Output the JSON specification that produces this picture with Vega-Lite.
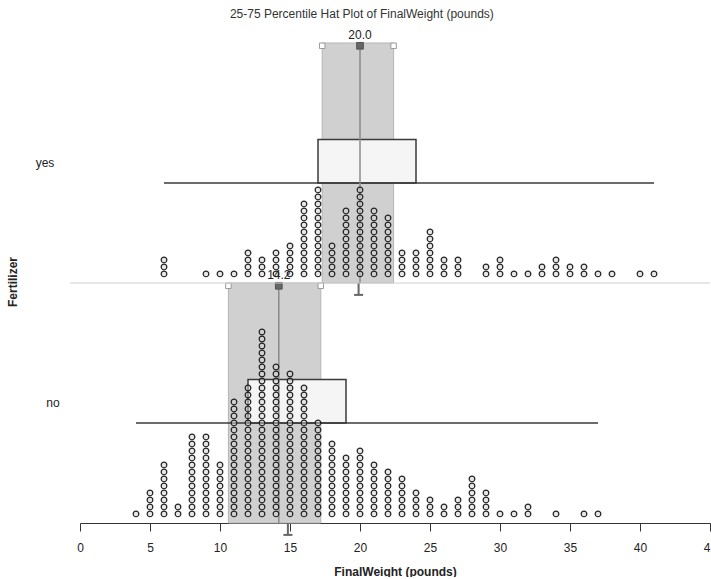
{
  "$schema": "https://vega.github.io/schema/vega-lite/v6.json",
  "padding": {"left": 7, "top": 8, "right": 0, "bottom": 0},
  "bounds": "flush",
  "title": {"text": "25-75 Percentile Hat Plot of FinalWeight (pounds)", "fontSize": 12, "fontWeight": "normal", "font": "Liberation Sans", "color": "#333333", "anchor": "middle", "offset": 8},
  "data": {"values": [
    {"Fertilizer":"yes","min":6,"q1":17,"median":20,"q3":24,"max":41,"lo":17.3,"hi":22.4,"mean":19.9},
    {"Fertilizer":"no","min":4,"q1":12,"median":14.2,"q3":19,"max":37,"lo":10.6,"hi":17.2,"mean":14.85},
    {"Fertilizer":"yes","FinalWeight":6},{"Fertilizer":"yes","FinalWeight":6},{"Fertilizer":"yes","FinalWeight":6},
    {"Fertilizer":"yes","FinalWeight":9},{"Fertilizer":"yes","FinalWeight":10},{"Fertilizer":"yes","FinalWeight":11},
    {"Fertilizer":"yes","FinalWeight":12},{"Fertilizer":"yes","FinalWeight":12},{"Fertilizer":"yes","FinalWeight":12},{"Fertilizer":"yes","FinalWeight":12},
    {"Fertilizer":"yes","FinalWeight":13},{"Fertilizer":"yes","FinalWeight":13},{"Fertilizer":"yes","FinalWeight":13},
    {"Fertilizer":"yes","FinalWeight":14},{"Fertilizer":"yes","FinalWeight":14},{"Fertilizer":"yes","FinalWeight":14},{"Fertilizer":"yes","FinalWeight":14},
    {"Fertilizer":"yes","FinalWeight":15},{"Fertilizer":"yes","FinalWeight":15},{"Fertilizer":"yes","FinalWeight":15},{"Fertilizer":"yes","FinalWeight":15},{"Fertilizer":"yes","FinalWeight":15},
    {"Fertilizer":"yes","FinalWeight":16},{"Fertilizer":"yes","FinalWeight":16},{"Fertilizer":"yes","FinalWeight":16},{"Fertilizer":"yes","FinalWeight":16},{"Fertilizer":"yes","FinalWeight":16},{"Fertilizer":"yes","FinalWeight":16},{"Fertilizer":"yes","FinalWeight":16},{"Fertilizer":"yes","FinalWeight":16},{"Fertilizer":"yes","FinalWeight":16},{"Fertilizer":"yes","FinalWeight":16},{"Fertilizer":"yes","FinalWeight":16},
    {"Fertilizer":"yes","FinalWeight":17},{"Fertilizer":"yes","FinalWeight":17},{"Fertilizer":"yes","FinalWeight":17},{"Fertilizer":"yes","FinalWeight":17},{"Fertilizer":"yes","FinalWeight":17},{"Fertilizer":"yes","FinalWeight":17},{"Fertilizer":"yes","FinalWeight":17},{"Fertilizer":"yes","FinalWeight":17},{"Fertilizer":"yes","FinalWeight":17},{"Fertilizer":"yes","FinalWeight":17},{"Fertilizer":"yes","FinalWeight":17},{"Fertilizer":"yes","FinalWeight":17},{"Fertilizer":"yes","FinalWeight":17},
    {"Fertilizer":"yes","FinalWeight":18},{"Fertilizer":"yes","FinalWeight":18},{"Fertilizer":"yes","FinalWeight":18},{"Fertilizer":"yes","FinalWeight":18},{"Fertilizer":"yes","FinalWeight":18},
    {"Fertilizer":"yes","FinalWeight":19},{"Fertilizer":"yes","FinalWeight":19},{"Fertilizer":"yes","FinalWeight":19},{"Fertilizer":"yes","FinalWeight":19},{"Fertilizer":"yes","FinalWeight":19},{"Fertilizer":"yes","FinalWeight":19},{"Fertilizer":"yes","FinalWeight":19},{"Fertilizer":"yes","FinalWeight":19},{"Fertilizer":"yes","FinalWeight":19},{"Fertilizer":"yes","FinalWeight":19},
    {"Fertilizer":"yes","FinalWeight":20},{"Fertilizer":"yes","FinalWeight":20},{"Fertilizer":"yes","FinalWeight":20},{"Fertilizer":"yes","FinalWeight":20},{"Fertilizer":"yes","FinalWeight":20},{"Fertilizer":"yes","FinalWeight":20},{"Fertilizer":"yes","FinalWeight":20},{"Fertilizer":"yes","FinalWeight":20},{"Fertilizer":"yes","FinalWeight":20},{"Fertilizer":"yes","FinalWeight":20},{"Fertilizer":"yes","FinalWeight":20},{"Fertilizer":"yes","FinalWeight":20},{"Fertilizer":"yes","FinalWeight":20},
    {"Fertilizer":"yes","FinalWeight":21},{"Fertilizer":"yes","FinalWeight":21},{"Fertilizer":"yes","FinalWeight":21},{"Fertilizer":"yes","FinalWeight":21},{"Fertilizer":"yes","FinalWeight":21},{"Fertilizer":"yes","FinalWeight":21},{"Fertilizer":"yes","FinalWeight":21},{"Fertilizer":"yes","FinalWeight":21},{"Fertilizer":"yes","FinalWeight":21},{"Fertilizer":"yes","FinalWeight":21},
    {"Fertilizer":"yes","FinalWeight":22},{"Fertilizer":"yes","FinalWeight":22},{"Fertilizer":"yes","FinalWeight":22},{"Fertilizer":"yes","FinalWeight":22},{"Fertilizer":"yes","FinalWeight":22},{"Fertilizer":"yes","FinalWeight":22},{"Fertilizer":"yes","FinalWeight":22},{"Fertilizer":"yes","FinalWeight":22},{"Fertilizer":"yes","FinalWeight":22},
    {"Fertilizer":"yes","FinalWeight":23},{"Fertilizer":"yes","FinalWeight":23},{"Fertilizer":"yes","FinalWeight":23},{"Fertilizer":"yes","FinalWeight":23},
    {"Fertilizer":"yes","FinalWeight":24},{"Fertilizer":"yes","FinalWeight":24},{"Fertilizer":"yes","FinalWeight":24},{"Fertilizer":"yes","FinalWeight":24},
    {"Fertilizer":"yes","FinalWeight":25},{"Fertilizer":"yes","FinalWeight":25},{"Fertilizer":"yes","FinalWeight":25},{"Fertilizer":"yes","FinalWeight":25},{"Fertilizer":"yes","FinalWeight":25},{"Fertilizer":"yes","FinalWeight":25},{"Fertilizer":"yes","FinalWeight":25},
    {"Fertilizer":"yes","FinalWeight":26},{"Fertilizer":"yes","FinalWeight":26},{"Fertilizer":"yes","FinalWeight":26},
    {"Fertilizer":"yes","FinalWeight":27},{"Fertilizer":"yes","FinalWeight":27},{"Fertilizer":"yes","FinalWeight":27},
    {"Fertilizer":"yes","FinalWeight":29},{"Fertilizer":"yes","FinalWeight":29},
    {"Fertilizer":"yes","FinalWeight":30},{"Fertilizer":"yes","FinalWeight":30},{"Fertilizer":"yes","FinalWeight":30},
    {"Fertilizer":"yes","FinalWeight":31},{"Fertilizer":"yes","FinalWeight":32},
    {"Fertilizer":"yes","FinalWeight":33},{"Fertilizer":"yes","FinalWeight":33},
    {"Fertilizer":"yes","FinalWeight":34},{"Fertilizer":"yes","FinalWeight":34},{"Fertilizer":"yes","FinalWeight":34},
    {"Fertilizer":"yes","FinalWeight":35},{"Fertilizer":"yes","FinalWeight":35},
    {"Fertilizer":"yes","FinalWeight":36},{"Fertilizer":"yes","FinalWeight":36},
    {"Fertilizer":"yes","FinalWeight":37},{"Fertilizer":"yes","FinalWeight":38},{"Fertilizer":"yes","FinalWeight":40},{"Fertilizer":"yes","FinalWeight":41},
    {"Fertilizer":"no","FinalWeight":4},
    {"Fertilizer":"no","FinalWeight":5},{"Fertilizer":"no","FinalWeight":5},{"Fertilizer":"no","FinalWeight":5},{"Fertilizer":"no","FinalWeight":5},
    {"Fertilizer":"no","FinalWeight":6},{"Fertilizer":"no","FinalWeight":6},{"Fertilizer":"no","FinalWeight":6},{"Fertilizer":"no","FinalWeight":6},{"Fertilizer":"no","FinalWeight":6},{"Fertilizer":"no","FinalWeight":6},{"Fertilizer":"no","FinalWeight":6},{"Fertilizer":"no","FinalWeight":6},
    {"Fertilizer":"no","FinalWeight":7},{"Fertilizer":"no","FinalWeight":7},
    {"Fertilizer":"no","FinalWeight":8},{"Fertilizer":"no","FinalWeight":8},{"Fertilizer":"no","FinalWeight":8},{"Fertilizer":"no","FinalWeight":8},{"Fertilizer":"no","FinalWeight":8},{"Fertilizer":"no","FinalWeight":8},{"Fertilizer":"no","FinalWeight":8},{"Fertilizer":"no","FinalWeight":8},{"Fertilizer":"no","FinalWeight":8},{"Fertilizer":"no","FinalWeight":8},{"Fertilizer":"no","FinalWeight":8},{"Fertilizer":"no","FinalWeight":8},
    {"Fertilizer":"no","FinalWeight":9},{"Fertilizer":"no","FinalWeight":9},{"Fertilizer":"no","FinalWeight":9},{"Fertilizer":"no","FinalWeight":9},{"Fertilizer":"no","FinalWeight":9},{"Fertilizer":"no","FinalWeight":9},{"Fertilizer":"no","FinalWeight":9},{"Fertilizer":"no","FinalWeight":9},{"Fertilizer":"no","FinalWeight":9},{"Fertilizer":"no","FinalWeight":9},{"Fertilizer":"no","FinalWeight":9},{"Fertilizer":"no","FinalWeight":9},
    {"Fertilizer":"no","FinalWeight":10},{"Fertilizer":"no","FinalWeight":10},{"Fertilizer":"no","FinalWeight":10},{"Fertilizer":"no","FinalWeight":10},{"Fertilizer":"no","FinalWeight":10},{"Fertilizer":"no","FinalWeight":10},{"Fertilizer":"no","FinalWeight":10},{"Fertilizer":"no","FinalWeight":10},
    {"Fertilizer":"no","FinalWeight":11},{"Fertilizer":"no","FinalWeight":11},{"Fertilizer":"no","FinalWeight":11},{"Fertilizer":"no","FinalWeight":11},{"Fertilizer":"no","FinalWeight":11},{"Fertilizer":"no","FinalWeight":11},{"Fertilizer":"no","FinalWeight":11},{"Fertilizer":"no","FinalWeight":11},{"Fertilizer":"no","FinalWeight":11},{"Fertilizer":"no","FinalWeight":11},{"Fertilizer":"no","FinalWeight":11},{"Fertilizer":"no","FinalWeight":11},{"Fertilizer":"no","FinalWeight":11},{"Fertilizer":"no","FinalWeight":11},{"Fertilizer":"no","FinalWeight":11},{"Fertilizer":"no","FinalWeight":11},{"Fertilizer":"no","FinalWeight":11},
    {"Fertilizer":"no","FinalWeight":12},{"Fertilizer":"no","FinalWeight":12},{"Fertilizer":"no","FinalWeight":12},{"Fertilizer":"no","FinalWeight":12},{"Fertilizer":"no","FinalWeight":12},{"Fertilizer":"no","FinalWeight":12},{"Fertilizer":"no","FinalWeight":12},{"Fertilizer":"no","FinalWeight":12},{"Fertilizer":"no","FinalWeight":12},{"Fertilizer":"no","FinalWeight":12},{"Fertilizer":"no","FinalWeight":12},{"Fertilizer":"no","FinalWeight":12},{"Fertilizer":"no","FinalWeight":12},{"Fertilizer":"no","FinalWeight":12},{"Fertilizer":"no","FinalWeight":12},{"Fertilizer":"no","FinalWeight":12},{"Fertilizer":"no","FinalWeight":12},{"Fertilizer":"no","FinalWeight":12},{"Fertilizer":"no","FinalWeight":12},
    {"Fertilizer":"no","FinalWeight":13},{"Fertilizer":"no","FinalWeight":13},{"Fertilizer":"no","FinalWeight":13},{"Fertilizer":"no","FinalWeight":13},{"Fertilizer":"no","FinalWeight":13},{"Fertilizer":"no","FinalWeight":13},{"Fertilizer":"no","FinalWeight":13},{"Fertilizer":"no","FinalWeight":13},{"Fertilizer":"no","FinalWeight":13},{"Fertilizer":"no","FinalWeight":13},{"Fertilizer":"no","FinalWeight":13},{"Fertilizer":"no","FinalWeight":13},{"Fertilizer":"no","FinalWeight":13},{"Fertilizer":"no","FinalWeight":13},{"Fertilizer":"no","FinalWeight":13},{"Fertilizer":"no","FinalWeight":13},{"Fertilizer":"no","FinalWeight":13},{"Fertilizer":"no","FinalWeight":13},{"Fertilizer":"no","FinalWeight":13},{"Fertilizer":"no","FinalWeight":13},{"Fertilizer":"no","FinalWeight":13},{"Fertilizer":"no","FinalWeight":13},{"Fertilizer":"no","FinalWeight":13},{"Fertilizer":"no","FinalWeight":13},{"Fertilizer":"no","FinalWeight":13},{"Fertilizer":"no","FinalWeight":13},{"Fertilizer":"no","FinalWeight":13},
    {"Fertilizer":"no","FinalWeight":14},{"Fertilizer":"no","FinalWeight":14},{"Fertilizer":"no","FinalWeight":14},{"Fertilizer":"no","FinalWeight":14},{"Fertilizer":"no","FinalWeight":14},{"Fertilizer":"no","FinalWeight":14},{"Fertilizer":"no","FinalWeight":14},{"Fertilizer":"no","FinalWeight":14},{"Fertilizer":"no","FinalWeight":14},{"Fertilizer":"no","FinalWeight":14},{"Fertilizer":"no","FinalWeight":14},{"Fertilizer":"no","FinalWeight":14},{"Fertilizer":"no","FinalWeight":14},{"Fertilizer":"no","FinalWeight":14},{"Fertilizer":"no","FinalWeight":14},{"Fertilizer":"no","FinalWeight":14},{"Fertilizer":"no","FinalWeight":14},{"Fertilizer":"no","FinalWeight":14},{"Fertilizer":"no","FinalWeight":14},{"Fertilizer":"no","FinalWeight":14},{"Fertilizer":"no","FinalWeight":14},{"Fertilizer":"no","FinalWeight":14},
    {"Fertilizer":"no","FinalWeight":15},{"Fertilizer":"no","FinalWeight":15},{"Fertilizer":"no","FinalWeight":15},{"Fertilizer":"no","FinalWeight":15},{"Fertilizer":"no","FinalWeight":15},{"Fertilizer":"no","FinalWeight":15},{"Fertilizer":"no","FinalWeight":15},{"Fertilizer":"no","FinalWeight":15},{"Fertilizer":"no","FinalWeight":15},{"Fertilizer":"no","FinalWeight":15},{"Fertilizer":"no","FinalWeight":15},{"Fertilizer":"no","FinalWeight":15},{"Fertilizer":"no","FinalWeight":15},{"Fertilizer":"no","FinalWeight":15},{"Fertilizer":"no","FinalWeight":15},{"Fertilizer":"no","FinalWeight":15},{"Fertilizer":"no","FinalWeight":15},{"Fertilizer":"no","FinalWeight":15},{"Fertilizer":"no","FinalWeight":15},{"Fertilizer":"no","FinalWeight":15},{"Fertilizer":"no","FinalWeight":15},
    {"Fertilizer":"no","FinalWeight":16},{"Fertilizer":"no","FinalWeight":16},{"Fertilizer":"no","FinalWeight":16},{"Fertilizer":"no","FinalWeight":16},{"Fertilizer":"no","FinalWeight":16},{"Fertilizer":"no","FinalWeight":16},{"Fertilizer":"no","FinalWeight":16},{"Fertilizer":"no","FinalWeight":16},{"Fertilizer":"no","FinalWeight":16},{"Fertilizer":"no","FinalWeight":16},{"Fertilizer":"no","FinalWeight":16},{"Fertilizer":"no","FinalWeight":16},{"Fertilizer":"no","FinalWeight":16},{"Fertilizer":"no","FinalWeight":16},{"Fertilizer":"no","FinalWeight":16},{"Fertilizer":"no","FinalWeight":16},{"Fertilizer":"no","FinalWeight":16},{"Fertilizer":"no","FinalWeight":16},{"Fertilizer":"no","FinalWeight":16},
    {"Fertilizer":"no","FinalWeight":17},{"Fertilizer":"no","FinalWeight":17},{"Fertilizer":"no","FinalWeight":17},{"Fertilizer":"no","FinalWeight":17},{"Fertilizer":"no","FinalWeight":17},{"Fertilizer":"no","FinalWeight":17},{"Fertilizer":"no","FinalWeight":17},{"Fertilizer":"no","FinalWeight":17},{"Fertilizer":"no","FinalWeight":17},{"Fertilizer":"no","FinalWeight":17},{"Fertilizer":"no","FinalWeight":17},{"Fertilizer":"no","FinalWeight":17},{"Fertilizer":"no","FinalWeight":17},{"Fertilizer":"no","FinalWeight":17},
    {"Fertilizer":"no","FinalWeight":18},{"Fertilizer":"no","FinalWeight":18},{"Fertilizer":"no","FinalWeight":18},{"Fertilizer":"no","FinalWeight":18},{"Fertilizer":"no","FinalWeight":18},{"Fertilizer":"no","FinalWeight":18},{"Fertilizer":"no","FinalWeight":18},{"Fertilizer":"no","FinalWeight":18},{"Fertilizer":"no","FinalWeight":18},{"Fertilizer":"no","FinalWeight":18},{"Fertilizer":"no","FinalWeight":18},
    {"Fertilizer":"no","FinalWeight":19},{"Fertilizer":"no","FinalWeight":19},{"Fertilizer":"no","FinalWeight":19},{"Fertilizer":"no","FinalWeight":19},{"Fertilizer":"no","FinalWeight":19},{"Fertilizer":"no","FinalWeight":19},{"Fertilizer":"no","FinalWeight":19},{"Fertilizer":"no","FinalWeight":19},{"Fertilizer":"no","FinalWeight":19},
    {"Fertilizer":"no","FinalWeight":20},{"Fertilizer":"no","FinalWeight":20},{"Fertilizer":"no","FinalWeight":20},{"Fertilizer":"no","FinalWeight":20},{"Fertilizer":"no","FinalWeight":20},{"Fertilizer":"no","FinalWeight":20},{"Fertilizer":"no","FinalWeight":20},{"Fertilizer":"no","FinalWeight":20},{"Fertilizer":"no","FinalWeight":20},{"Fertilizer":"no","FinalWeight":20},
    {"Fertilizer":"no","FinalWeight":21},{"Fertilizer":"no","FinalWeight":21},{"Fertilizer":"no","FinalWeight":21},{"Fertilizer":"no","FinalWeight":21},{"Fertilizer":"no","FinalWeight":21},{"Fertilizer":"no","FinalWeight":21},{"Fertilizer":"no","FinalWeight":21},{"Fertilizer":"no","FinalWeight":21},
    {"Fertilizer":"no","FinalWeight":22},{"Fertilizer":"no","FinalWeight":22},{"Fertilizer":"no","FinalWeight":22},{"Fertilizer":"no","FinalWeight":22},{"Fertilizer":"no","FinalWeight":22},{"Fertilizer":"no","FinalWeight":22},{"Fertilizer":"no","FinalWeight":22},
    {"Fertilizer":"no","FinalWeight":23},{"Fertilizer":"no","FinalWeight":23},{"Fertilizer":"no","FinalWeight":23},{"Fertilizer":"no","FinalWeight":23},{"Fertilizer":"no","FinalWeight":23},{"Fertilizer":"no","FinalWeight":23},
    {"Fertilizer":"no","FinalWeight":24},{"Fertilizer":"no","FinalWeight":24},{"Fertilizer":"no","FinalWeight":24},{"Fertilizer":"no","FinalWeight":24},
    {"Fertilizer":"no","FinalWeight":25},{"Fertilizer":"no","FinalWeight":25},{"Fertilizer":"no","FinalWeight":25},
    {"Fertilizer":"no","FinalWeight":26},{"Fertilizer":"no","FinalWeight":26},
    {"Fertilizer":"no","FinalWeight":27},{"Fertilizer":"no","FinalWeight":27},{"Fertilizer":"no","FinalWeight":27},
    {"Fertilizer":"no","FinalWeight":28},{"Fertilizer":"no","FinalWeight":28},{"Fertilizer":"no","FinalWeight":28},{"Fertilizer":"no","FinalWeight":28},{"Fertilizer":"no","FinalWeight":28},{"Fertilizer":"no","FinalWeight":28},
    {"Fertilizer":"no","FinalWeight":29},{"Fertilizer":"no","FinalWeight":29},{"Fertilizer":"no","FinalWeight":29},{"Fertilizer":"no","FinalWeight":29},
    {"Fertilizer":"no","FinalWeight":30},{"Fertilizer":"no","FinalWeight":31},
    {"Fertilizer":"no","FinalWeight":32},{"Fertilizer":"no","FinalWeight":32},
    {"Fertilizer":"no","FinalWeight":34},{"Fertilizer":"no","FinalWeight":36},{"Fertilizer":"no","FinalWeight":37}
  ]},
  "facet": {"row": {"field": "Fertilizer", "type": "nominal", "sort": ["yes", "no"], "title": "Fertilizer",
    "header": {"labelAngle": 0, "labelAlign": "right", "labelOrient": "left", "labelFontSize": 12, "labelFont": "Liberation Sans", "labelColor": "#222222", "labelPadding": 7, "titleOrient": "left", "titleFontSize": 12, "titleFont": "Liberation Sans", "titleFontWeight": "bold", "titleColor": "#222222", "titlePadding": 5}}},
  "spacing": 0,
  "spec": {
    "width": 630,
    "height": 240,
    "layer": [
      {
        "transform": [{"filter": "isValid(datum.median)"}],
        "mark": {"type": "rect", "fill": "#d0d0d0", "stroke": "#b5b5b5", "strokeWidth": 1},
        "encoding": {
          "x": {"field": "lo", "type": "quantitative", "scale": {"domain": [0, 45], "nice": false, "zero": false}, "title": "FinalWeight (pounds)",
            "axis": {"values": [0, 5, 10, 15, 20, 25, 30, 35, 40, 45], "labelFlush": false, "grid": false}},
          "x2": {"field": "hi"}
        }
      },
      {
        "transform": [{"filter": "isValid(datum.median)"}],
        "mark": {"type": "rect", "fill": "#f5f5f5", "stroke": "#3a3a3a", "strokeWidth": 1.5},
        "encoding": {
          "x": {"field": "q1", "type": "quantitative", "title": "FinalWeight (pounds)"},
          "x2": {"field": "q3"},
          "y": {"datum": 20.2, "type": "quantitative", "scale": {"domain": [-0.3, 34], "nice": false, "zero": false}, "axis": null},
          "y2": {"datum": 14}
        }
      },
      {
        "transform": [{"filter": "isValid(datum.median)"}],
        "mark": {"type": "rule", "stroke": "#3a3a3a", "strokeWidth": 1.5},
        "encoding": {
          "x": {"field": "min", "type": "quantitative", "title": "FinalWeight (pounds)"},
          "x2": {"field": "max"},
          "y": {"datum": 14, "type": "quantitative", "axis": null}
        }
      },
      {
        "transform": [{"filter": "isValid(datum.median)"}],
        "mark": {"type": "rule", "stroke": "#8a8a8a", "strokeWidth": 1.5},
        "encoding": {
          "x": {"field": "median", "type": "quantitative", "title": "FinalWeight (pounds)"},
          "y": {"datum": 33.6, "type": "quantitative", "axis": null},
          "y2": {"datum": -0.3}
        }
      },
      {
        "transform": [{"filter": "isValid(datum.median)"}],
        "mark": {"type": "rule", "stroke": "#666666", "strokeWidth": 2},
        "encoding": {
          "x": {"field": "mean", "type": "quantitative", "title": "FinalWeight (pounds)"},
          "y": {"datum": -0.3, "type": "quantitative", "axis": null},
          "y2": {"datum": -2}
        }
      },
      {
        "transform": [{"filter": "isValid(datum.median)"}],
        "mark": {"type": "tick", "orient": "horizontal", "size": 9, "thickness": 2, "color": "#666666", "opacity": 1},
        "encoding": {
          "x": {"field": "mean", "type": "quantitative", "title": "FinalWeight (pounds)"},
          "y": {"datum": -2, "type": "quantitative", "axis": null}
        }
      },
      {
        "transform": [{"filter": "isValid(datum.median)"}, {"fold": ["lo", "hi"], "as": ["edge", "pos"]}],
        "mark": {"type": "point", "shape": "square", "size": 30, "filled": true, "fill": "#ffffff", "stroke": "#9a9a9a", "strokeWidth": 1, "opacity": 1},
        "encoding": {
          "x": {"field": "pos", "type": "quantitative", "title": "FinalWeight (pounds)"},
          "y": {"datum": 33.6, "type": "quantitative", "axis": null}
        }
      },
      {
        "transform": [{"filter": "isValid(datum.median)"}],
        "mark": {"type": "point", "shape": "square", "size": 45, "filled": true, "fill": "#666666", "stroke": "#555555", "strokeWidth": 1, "opacity": 1},
        "encoding": {
          "x": {"field": "median", "type": "quantitative", "title": "FinalWeight (pounds)"},
          "y": {"datum": 33.6, "type": "quantitative", "axis": null}
        }
      },
      {
        "transform": [{"filter": "isValid(datum.median)"}],
        "mark": {"type": "text", "fontSize": 12, "font": "Liberation Sans", "color": "#222222", "baseline": "middle", "dy": -8},
        "encoding": {
          "x": {"field": "median", "type": "quantitative", "title": "FinalWeight (pounds)"},
          "y": {"datum": 34, "type": "quantitative", "axis": null},
          "text": {"field": "median", "type": "quantitative", "format": ".1f"}
        }
      },
      {
        "transform": [{"filter": "isValid(datum.median) && datum.Fertilizer == 'no'"}],
        "mark": {"type": "rule", "stroke": "#d0d0d0", "strokeWidth": 1},
        "encoding": {
          "x": {"datum": -0.7, "type": "quantitative", "title": "FinalWeight (pounds)"},
          "x2": {"datum": 45},
          "y": {"datum": 34, "type": "quantitative", "axis": null}
        }
      },
      {
        "transform": [{"filter": "isValid(datum.FinalWeight)"}, {"window": [{"op": "row_number", "as": "stack"}], "groupby": ["Fertilizer", "FinalWeight"]}],
        "mark": {"type": "point", "shape": "circle", "size": 32, "filled": true, "fill": "#d0d0d0", "fillOpacity": 0.5, "stroke": "#222222", "strokeWidth": 1.2, "strokeOpacity": 1, "opacity": 1},
        "encoding": {
          "x": {"field": "FinalWeight", "type": "quantitative", "title": "FinalWeight (pounds)"},
          "y": {"field": "stack", "type": "quantitative", "axis": null}
        }
      }
    ]
  },
  "resolve": {"scale": {"x": "shared", "y": "shared"}},
  "config": {
    "view": {"stroke": null},
    "font": "Liberation Sans",
    "axisX": {"domainColor": "#333333", "tickColor": "#333333", "tickSize": 8, "labelFontSize": 12, "labelColor": "#222222", "labelPadding": 11, "labelFont": "Liberation Sans", "titleFontSize": 12, "titleFontWeight": "bold", "titleColor": "#222222", "titlePadding": 13, "titleFont": "Liberation Sans"}
  }
}
